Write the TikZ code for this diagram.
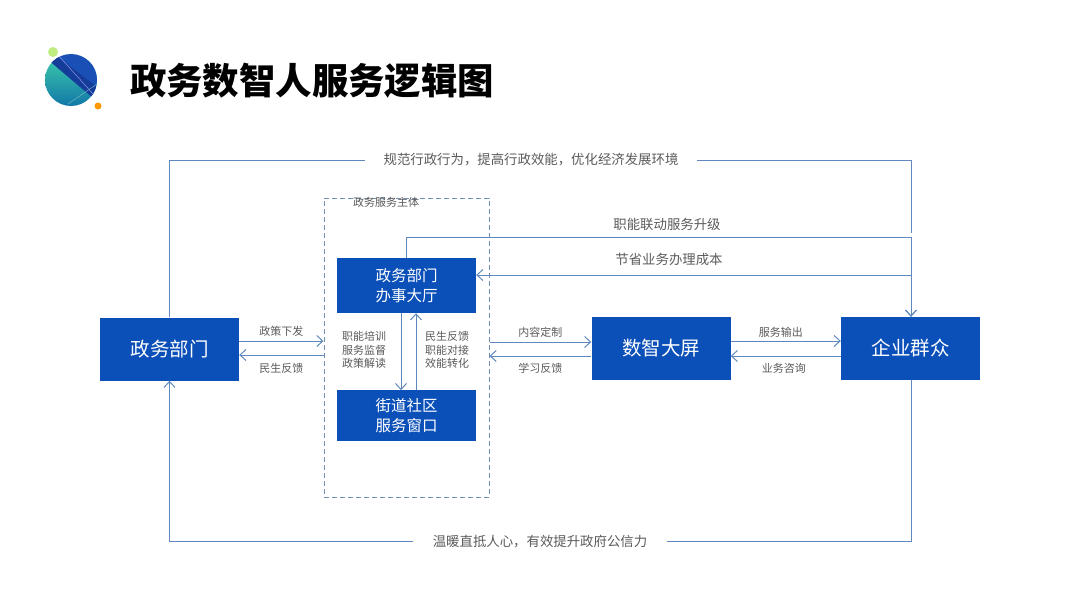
\documentclass[tikz,border=0pt]{standalone}
\usepackage{fontspec}
\setmainfont{Noto Sans CJK SC}
\usetikzlibrary{positioning,arrows.meta}
\definecolor{boxblue}{HTML}{0B50B8}
\definecolor{linkblue}{HTML}{5F88BE}
\definecolor{dashblue}{HTML}{6F8FB5}
\definecolor{labelgray}{HTML}{5A5A5A}
\definecolor{logoblue}{HTML}{1A4FB5}
\definecolor{logoband}{HTML}{143C98}
\definecolor{logoteal}{HTML}{38C4AA}
\definecolor{logodeep}{HTML}{1278A8}

\begin{document}
\begin{tikzpicture}[
    x=1pt, y=-1pt,
    bigblock/.style={
        fill=boxblue,
        text=white,
        align=center,
        minimum width=139pt,
        minimum height=63pt,
        font=\fontsize{19.5}{22}\selectfont,
        inner sep=0pt
    },
    subblock/.style={
        bigblock,
        minimum height=53pt,
        font=\fontsize{15.5}{20}\selectfont
    },
    smalllabel/.style={
        text=labelgray,
        align=center,
        font=\fontsize{11}{13.5}\selectfont,
        inner sep=0pt
    },
    linelabel/.style={
        text=labelgray,
        font=\fontsize{13.4}{15}\selectfont,
        inner sep=0pt
    },
    link/.style={draw=linkblue, line width=1pt},
    arrow/.style={link, -{Straight Barb[length=6pt,width=11pt]}}
]
\useasboundingbox (0,0) rectangle (1080,608);

% logo
\fill[logoteal!45!yellow!70] (53,52) circle (5);
\fill[orange!80!yellow] (98,106) circle (3.5);
\begin{scope}
    \clip (71,80) circle (26);
    \shade[top color=logoteal, bottom color=logodeep] (45,60) rectangle (97,106);
    \fill[logoblue] (40,44) -- (100,44) -- (100,108) -- (92,97) -- (52,63) -- cycle;
    \fill[logoband] (44,56) -- (58,57) -- (97,87) -- (100,108) -- (92,97) -- (52,63) -- cycle;
    \draw[white!65!blue, line width=0.4pt] (58,55) -- (94,95);
    \draw[white!60!teal, line width=0.3pt] (68,104) -- (97,84);
\end{scope}
\node[font=\fontsize{36.4}{40}\selectfont\bfseries, inner sep=0pt] (title) at (312,81) {政务数智人服务逻辑图};

% blocks
\node[bigblock] (gov) at (169.5,349) {政务部门};
\node[subblock, minimum height=55pt] (hall) at (406.5,285.5) {政务部门\\办事大厅};
\node[subblock, below=77pt of hall, minimum height=51pt] (street) {街道社区\\服务窗口};
\node[bigblock] (screen) at (661,348.5) {数智大屏};
\node[bigblock] (public) at (910.5,348.5) {企业群众};

% dashed frame
\node[draw=dashblue, dash pattern=on 5pt off 3pt, line width=1pt, minimum width=165pt, minimum height=299pt, inner sep=0pt] (frame) at (406.5,347.5) {};
\node[smalllabel] (frametitle) at (386,202) {政务服务主体};

% labels in the frame
\node[smalllabel] (leftduty) at (364,350) {职能培训\\服务监督\\政策解读};
\node[smalllabel] (rightduty) at (447,350) {民生反馈\\职能对接\\效能转化};

% long labels
\node[linelabel, inner xsep=18pt, inner ysep=2pt] (toptext) at (531,160) {规范行政行为，提高行政效能，优化经济发展环境};
\node[linelabel, inner xsep=20pt, inner ysep=2pt] (bottomtext) at (540,541.5) {温暖直抵人心，有效提升政府公信力};
\node[linelabel] (linktext) at (667,224) {职能联动服务升级};
\node[linelabel] (costtext) at (669,259) {节省业务办理成本};

\coordinate (topend) at (911,233);
\coordinate (linkstart) at (406,258);
\coordinate (linkturn) at (911,237);
\coordinate (costturn) at (911,275);

% outer loop
\draw[link] (gov.north) |- (toptext.west);
\draw[link] (toptext.east) -| (topend);
\draw[link] (public.south -| costturn) |- (bottomtext.east);
\draw[arrow] (bottomtext.west) -| (gov.south);

% upper links
\draw[arrow] (linkstart) |- (linkturn) -- (public.north -| linkturn);
\draw[arrow] (costturn) -- (public.north -| costturn);
\draw[arrow] (costturn) -- (hall.east |- costturn);

% gov and frame
\draw[arrow] ([yshift=8pt]gov.east) -- ([yshift=8pt]gov.east -| frame.west) node[smalllabel, midway, above=4pt] (govdown) {政策下发};
\draw[arrow] ([yshift=-6pt]gov.east -| frame.west) -- ([yshift=-6pt]gov.east) node[smalllabel, midway, below=8pt] (govup) {民生反馈};

% hall and street
\draw[arrow] ([xshift=-5.5pt]hall.south) -- ([xshift=-5.5pt]street.north);
\draw[arrow] ([xshift=9.5pt]street.north) -- ([xshift=9.5pt]hall.south);

% frame and screen
\draw[arrow] ([yshift=6.5pt]screen.west -| frame.east) -- ([yshift=6.5pt]screen.west) node[smalllabel, midway, above=4pt] (customtext) {内容定制};
\draw[arrow] ([yshift=-7.5pt]screen.west) -- ([yshift=-7.5pt]screen.west -| frame.east) node[smalllabel, midway, below=7pt] (learntext) {学习反馈};

% screen and public
\draw[arrow] ([yshift=7.5pt]screen.east) -- ([yshift=7.5pt]public.west) node[smalllabel, midway, above=3.5pt, xshift=-5pt] (servetext) {服务输出};
\draw[arrow] ([yshift=-7.5pt]public.west) -- ([yshift=-7.5pt]screen.east) node[smalllabel, midway, below=7pt, xshift=-2pt] (asktext) {业务咨询};
\end{tikzpicture}
\end{document}
